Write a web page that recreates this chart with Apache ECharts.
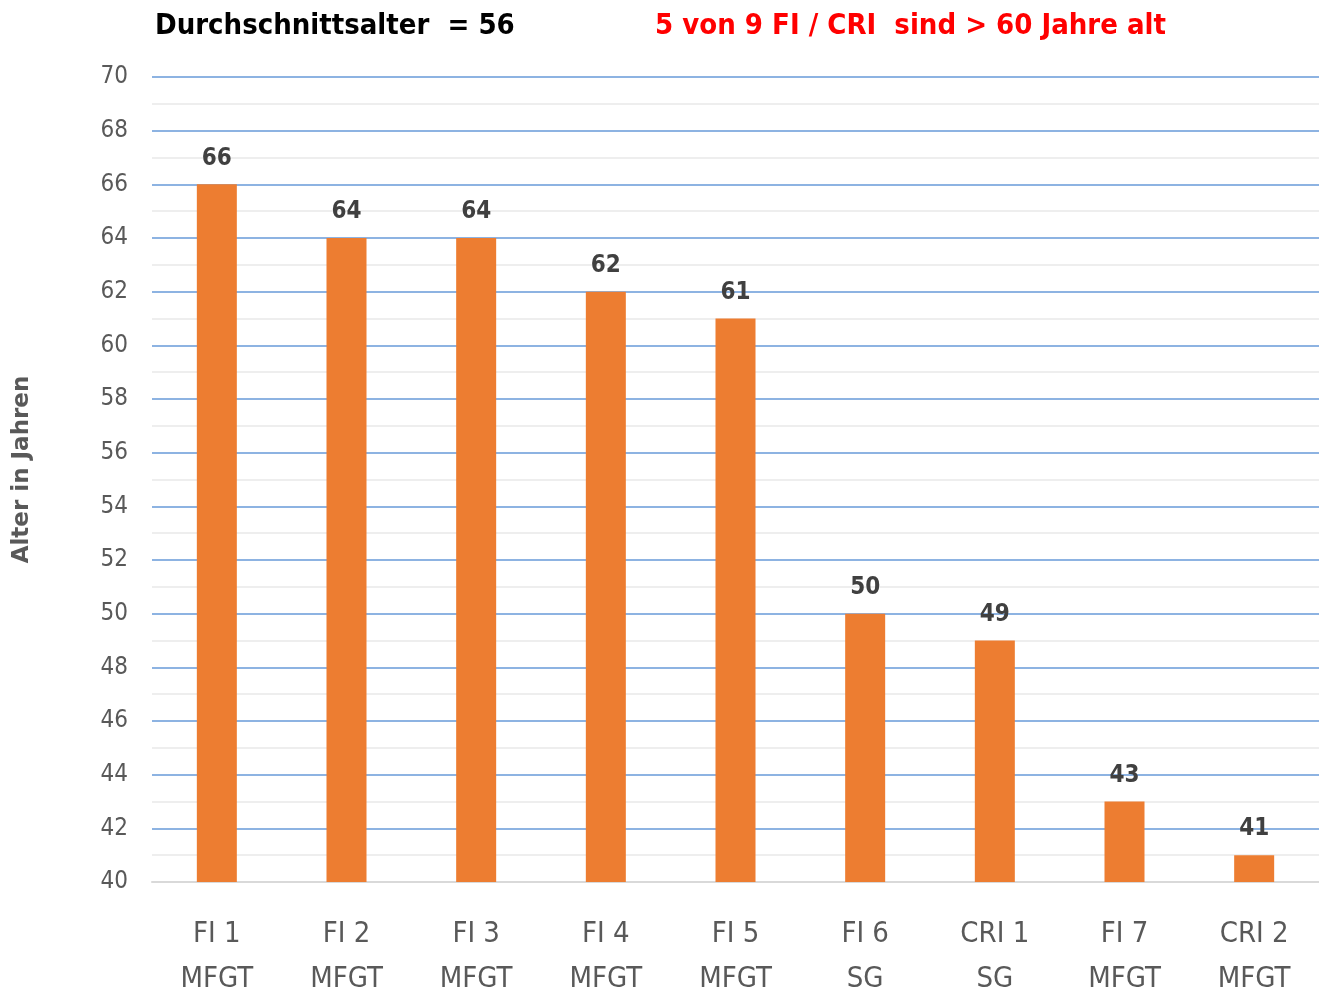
<!DOCTYPE html>
<html>
<head>
<meta charset="utf-8">
<script src="https://cdn.jsdelivr.net/npm/echarts@6/dist/echarts.min.js"></script>
<style>
  html, body { margin: 0; padding: 0; background: #fff; }
  #container { width: 1319px; height: 990px; }
</style>
</head>
<body>
<div id="container"></div>
<script>
// categories, two lines each
var categories = ['FI 1\nMFGT', 'FI 2\nMFGT', 'FI 3\nMFGT', 'FI 4\nMFGT', 'FI 5\nMFGT',
                  'FI 6\nSG', 'CRI 1\nSG', 'FI 7\nMFGT', 'CRI 2\nMFGT'];
var ages = [66, 64, 64, 62, 61, 50, 49, 43, 41];

var titleLeft = 'Durchschnittsalter  = 56';
var titleRight = '5 von 9 FI / CRI  sind > 60 Jahre alt';

var font = '"Liberation Sans Narrow", "DejaVu Sans Condensed", "Open Sans", sans-serif';

var dom = document.getElementById('container');
var myChart = echarts.init(dom, null, { renderer: 'canvas' });

var option = {
    animation: false,
    title: [
        {
            text: titleLeft,
            left: 150,
            top: 7,
            textStyle: { fontFamily: font, fontSize: 29, fontWeight: 'bold', color: '#000' }
        },
        {
            text: titleRight,
            left: 650,
            top: 7,
            textStyle: { fontFamily: font, fontSize: 29, fontWeight: 'bold', color: '#ff0000' }
        }
    ],
    grid: {
        left: 152,
        right: 0,
        top: 77,
        bottom: 108,
        outerBoundsMode: 'none'
    },
    xAxis: {
        type: 'category',
        data: categories,
        axisTick: { show: false },
        axisLine: { show: true, lineStyle: { color: '#d9d9d9', width: 2 } },
        axisLabel: {
            fontFamily: font,
            fontSize: 29,
            color: '#595959',
            lineHeight: 45,
            margin: 30,
            interval: 0
        }
    },
    yAxis: {
        type: 'value',
        min: 40,
        max: 70,
        interval: 2,
        name: 'Alter in Jahren',
        nameLocation: 'middle',
        nameGap: 118,
        nameRotate: 90,
        nameTextStyle: {
            fontFamily: '"DejaVu Sans", sans-serif',
            fontSize: 23,
            fontWeight: 'bold',
            color: '#595959',
            padding: [0, 0, 0, 20]
        },
        axisLine: { show: false },
        axisTick: { show: false },
        axisLabel: {
            fontFamily: font,
            fontSize: 24,
            color: '#595959',
            margin: 24
        },
        splitLine: { show: true, lineStyle: { color: '#8db3e2', width: 2 } },
        minorTick: { show: false, splitNumber: 2 },
        minorSplitLine: { show: true, lineStyle: { color: '#eeeeee', width: 2 } }
    },
    series: [
        {
            type: 'bar',
            data: ages,
            barWidth: 40,
            itemStyle: { color: '#ed7d31' },
            z: 3,
            label: {
                show: true,
                position: 'top',
                distance: 14,
                fontFamily: font,
                fontSize: 24,
                fontWeight: 'bold',
                color: '#404040'
            }
        }
    ]
};

myChart.setOption(option);
window.addEventListener('resize', myChart.resize);
</script>
</body>
</html>
